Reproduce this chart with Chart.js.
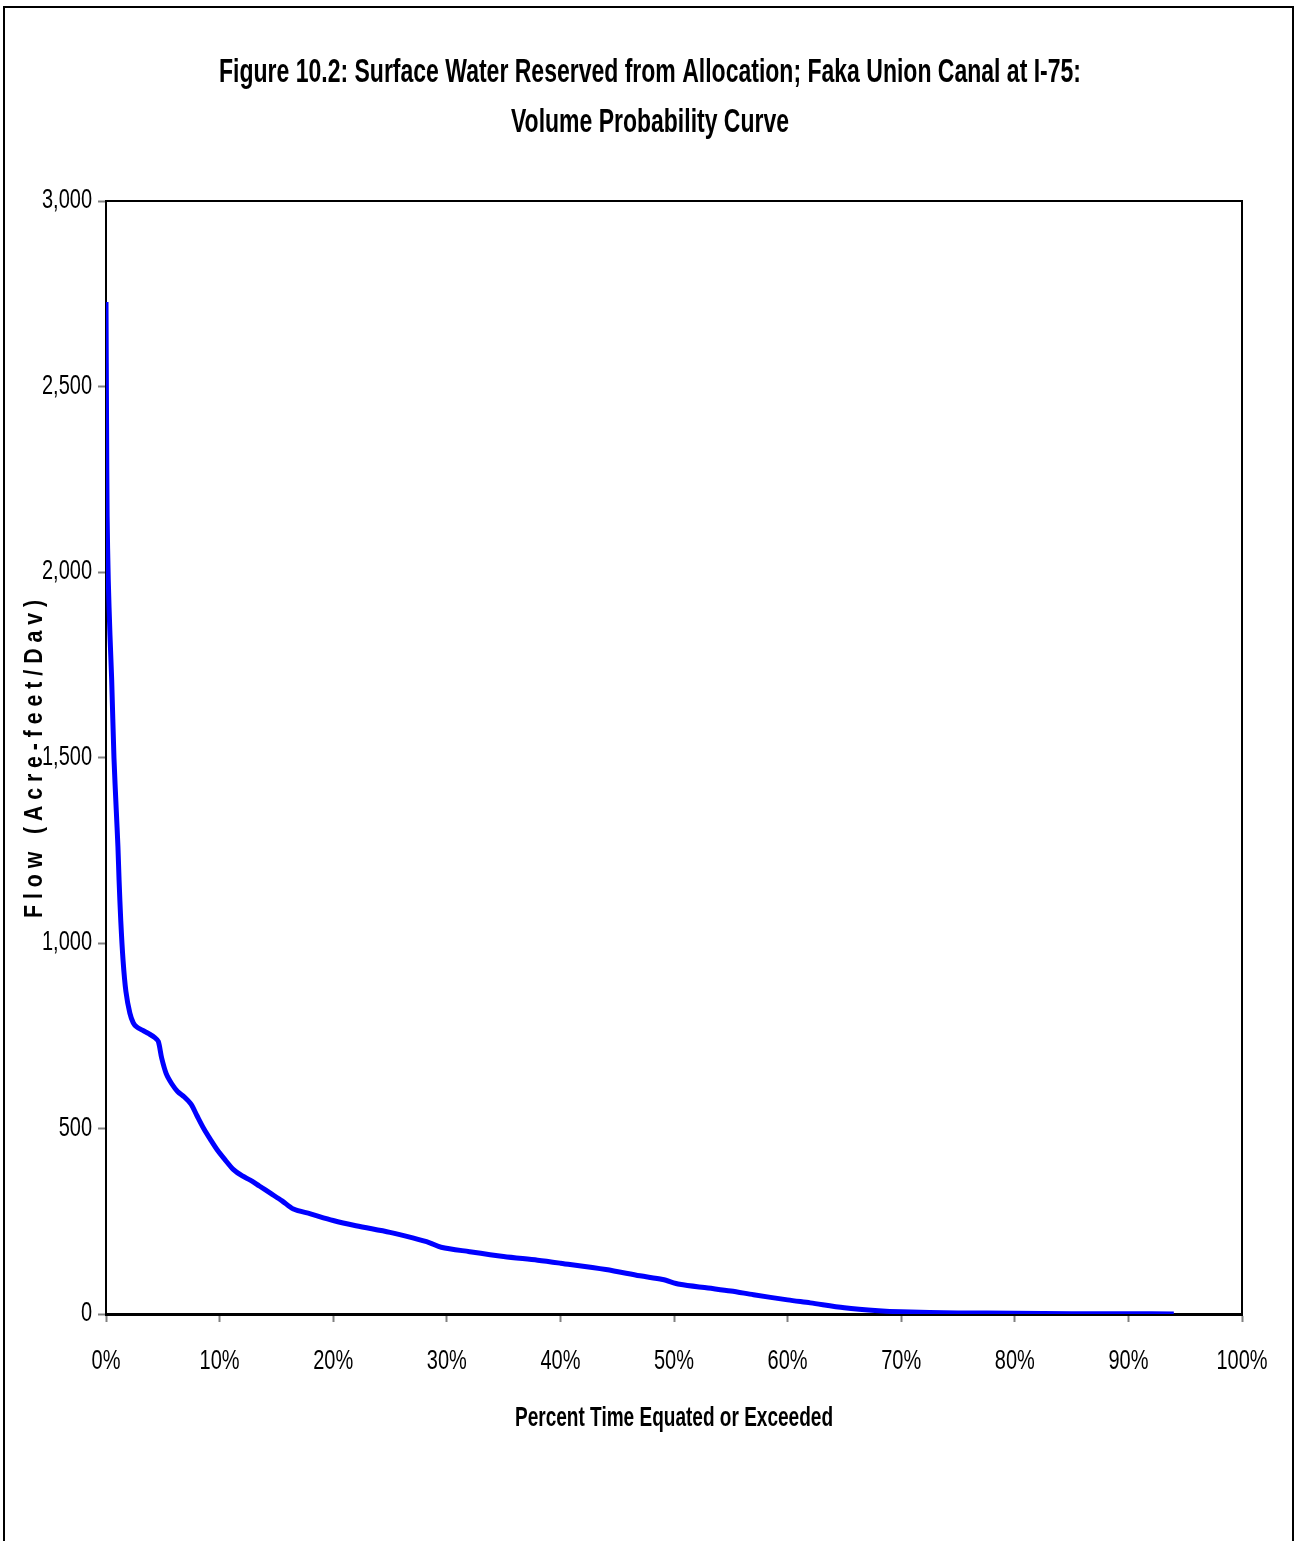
<!DOCTYPE html>
<html>
<head>
<meta charset="utf-8">
<title>Figure 10.2 Volume Probability Curve</title>
<script src="https://cdn.jsdelivr.net/npm/chart.js@4.4.1/dist/chart.umd.min.js"></script>
<style>
    body { margin: 0; background: #fff; }
    canvas { display: block; }
</style>
</head>
<body>
<canvas id="flowChart" width="1295" height="1541"></canvas>
<script>
// Values
var titleLines = [
    'Figure 10.2: Surface Water Reserved from Allocation; Faka Union Canal at I-75:',
    'Volume Probability Curve'
];
var xTitle = 'Percent Time Equated or Exceeded';
var yTitle = 'F l o w   ( A c r e - f e e t / D a v )';

// percent of time equated or exceeded
var pctTime = [0, 0.05, 0.1, 0.2, 0.35, 0.5, 0.7, 0.9, 1.05, 1.15, 1.3, 1.5, 1.75, 2.1, 2.4, 2.7,
    3.2, 3.8, 4.3, 4.6, 4.9, 5.3, 5.8, 6.3, 6.9, 7.5, 8.0, 8.6, 9.2, 9.8, 10.5, 11.2, 12.0, 12.7,
    13.5, 14.5, 15.5, 16.5, 18, 20, 22, 25, 27, 28.5, 29.5, 32, 35, 38, 40, 44, 47, 49, 50.5,
    53, 55, 57, 60, 62, 65, 68, 70, 75, 80, 85, 90, 94];
// flow, acre-feet/day
var flow = [2728, 2400, 2150, 1978, 1830, 1709, 1500, 1360, 1260, 1170, 1060, 954, 870, 811, 785, 774,
    765, 755, 745, 735, 690, 648, 620, 600, 585, 565, 535, 500, 470, 442, 415, 390, 372, 361,
    345, 325, 305, 283, 270, 252, 238, 220, 205, 192, 180, 168, 155, 145, 137, 120, 103, 93, 80,
    70, 62, 52, 38, 30, 17, 9, 6, 3, 2, 1, 0.5, 0.3];

var yTicks = [0, 500, 1000, 1500, 2000, 2500, 3000];
var yTickLabels = ['0', '500', '1,000', '1,500', '2,000', '2,500', '3,000'];
var xTicks = [0, 10, 20, 30, 40, 50, 60, 70, 80, 90, 100];
var xTickLabels = ['0%', '10%', '20%', '30%', '40%', '50%', '60%', '70%', '80%', '90%', '100%'];

var narrow = '"Liberation Sans Narrow", "Arial Narrow", "Liberation Sans", Arial, sans-serif';

// squeezed text, like Arial Narrow
function narrowText(ctx, text, x, y, squeeze) {
    ctx.save();
    ctx.translate(x, y);
    ctx.scale(squeeze, 1);
    ctx.fillText(text, 0, 0);
    ctx.restore();
}

// frame, plot box, tick labels and titles
var framePlugin = {
    id: 'framePlugin',
    afterDraw: function (chart) {
        var ctx = chart.ctx;
        var area = chart.chartArea;
        var xs = chart.scales.x;
        var ys = chart.scales.y;
        ctx.save();

        // outer frame (open at the bottom)
        ctx.strokeStyle = '#000';
        ctx.lineWidth = 2;
        ctx.beginPath();
        ctx.moveTo(4, 1541);
        ctx.lineTo(4, 7);
        ctx.lineTo(1293, 7);
        ctx.lineTo(1293, 1541);
        ctx.stroke();

        // top and right edge of plot area
        ctx.beginPath();
        ctx.moveTo(area.left, area.top);
        ctx.lineTo(area.right, area.top);
        ctx.lineTo(area.right, area.bottom);
        ctx.stroke();

        ctx.fillStyle = '#000';
        ctx.textBaseline = 'middle';

        // tick labels, placed by the scales
        ctx.font = '27px ' + narrow;
        ctx.textAlign = 'right';
        yTicks.forEach(function (v, i) {
            narrowText(ctx, yTickLabels[i], area.left - 14, ys.getPixelForValue(v), 0.74);
        });
        ctx.textAlign = 'center';
        xTicks.forEach(function (v, i) {
            narrowText(ctx, xTickLabels[i], xs.getPixelForValue(v), area.bottom + 48, 0.74);
        });

        ctx.font = 'bold 33px ' + narrow;
        ctx.fillText(titleLines[0], 650, 73, 862);
        ctx.fillText(titleLines[1], 650, 123, 278);

        ctx.font = 'bold 28px ' + narrow;
        ctx.fillText(xTitle, 674, 1418, 318);

        ctx.translate(35, 759);
        ctx.rotate(-Math.PI / 2);
        ctx.font = 'bold 25px ' + narrow;
        ctx.fillText(yTitle, 0, 0, 318);
        ctx.restore();
    }
};

function renderChart() {
    var ctx = document.getElementById('flowChart').getContext('2d');
    var points = pctTime.map(function (p, i) { return { x: p, y: flow[i] }; });

    new Chart(ctx, {
        type: 'line',
        data: {
            datasets: [{
                data: points,
                borderColor: '#0000FF',
                borderWidth: 5,
                pointRadius: 0,
                tension: 0.3,
                fill: false
            }]
        },
        options: {
            responsive: false,
            animation: false,
            layout: { padding: { top: 201, right: 53, left: 0, bottom: 0 } },
            plugins: {
                legend: { display: false },
                title: { display: false },
                tooltip: { enabled: false }
            },
            scales: {
                x: {
                    type: 'linear',
                    min: 0,
                    max: 100,
                    afterFit: function (scale) { scale.height = 227; },
                    afterBuildTicks: function (scale) {
                        scale.ticks = xTicks.map(function (v) { return { value: v }; });
                    },
                    ticks: { display: false },
                    grid: { drawOnChartArea: false, tickLength: 8, color: '#808080', tickWidth: 2 },
                    border: { display: true, color: '#000', width: 3 }
                },
                y: {
                    min: 0,
                    max: 3000,
                    afterFit: function (scale) { scale.width = 106; },
                    afterBuildTicks: function (scale) {
                        scale.ticks = yTicks.map(function (v) { return { value: v }; });
                    },
                    ticks: { display: false },
                    grid: { drawOnChartArea: false, tickLength: 8, color: '#808080', tickWidth: 2 },
                    border: { display: true, color: '#000', width: 2 }
                }
            }
        },
        plugins: [framePlugin]
    });
}

document.addEventListener('DOMContentLoaded', renderChart);
</script>
</body>
</html>
